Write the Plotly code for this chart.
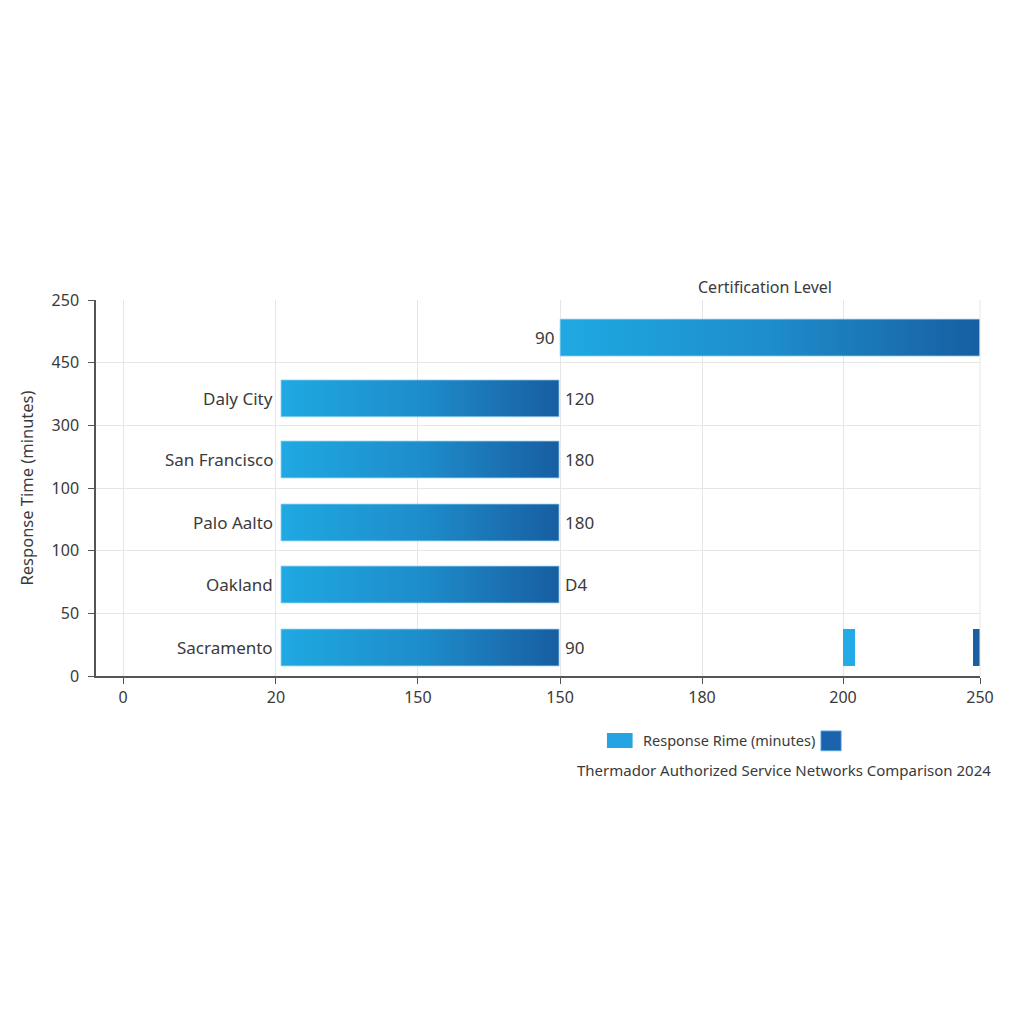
import plotly.graph_objects as go

# rows listed bottom -> top
cities = ["Sacramento", "Oakland", "Palo Aalto", "San Francisco", "Daly City"]
value_labels = ["90", "D4", "180", "180", "120"]
top_label = "90"

row_center = [0.455, 1.46, 2.45, 3.455, 4.43, 5.40]
bar_start = [1.106, 1.106, 1.106, 1.106, 1.106, 3.06]
bar_end = [3.053, 3.053, 3.053, 3.053, 3.053, 6.0]
bar_height = 0.59

# two small solid marks on the Sacramento row
mark_start = [5.041, 5.951]
mark_end = [5.125, 6.0]
mark_colors = ["#22abe6", "#1a5ea3"]

x_tickvals = [0, 1.071, 2.065, 3.06, 4.054, 5.041, 6]
x_ticktext = ["0", "20", "150", "150", "180", "200", "250"]
y_tickvals = [0, 1, 2, 3, 4, 5, 6]
y_ticktext = ["0", "50", "100", "100", "300", "450", "250"]

LIGHT = "#1fa9e2"
DARK = "#175ea2"
FONT = "Noto Sans"
TXT = "#3a3a3a"

fig = go.Figure()

for s, e, c in zip(bar_start, bar_end, row_center):
    y0, y1 = c - bar_height / 2, c + bar_height / 2
    fig.add_trace(go.Scatter(
        x=[s, e, e, s, s], y=[y0, y0, y1, y1, y0],
        mode="lines", fill="toself",
        fillgradient=dict(type="horizontal",
                          colorscale=[[0, LIGHT], [0.5, "#1e8dcb"], [1, DARK]]),
        line=dict(width=0.8, color="#9fd6f2"),
        hoverinfo="skip", showlegend=False,
    ))

for s, e, col in zip(mark_start, mark_end, mark_colors):
    c = row_center[0]
    y0, y1 = c - bar_height / 2, c + bar_height / 2
    fig.add_trace(go.Scatter(
        x=[s, e, e, s, s], y=[y0, y0, y1, y1, y0],
        mode="lines", fill="toself", fillcolor=col,
        line=dict(width=0), hoverinfo="skip", showlegend=False,
    ))

labels = []
# city names left of bars
for name, s, c in zip(cities, bar_start, row_center):
    labels.append(dict(x=s, y=c, text=name, xanchor="right", xshift=-6,
                       showarrow=False, font=dict(size=17, color=TXT)))
# value labels right of bars
for val, e, c in zip(value_labels, bar_end, row_center):
    labels.append(dict(x=e, y=c, text=val, xanchor="left", xshift=4,
                       showarrow=False, font=dict(size=17, color=TXT)))
# label of the top bar sits on its left
labels.append(dict(x=bar_start[5], y=row_center[5], text=top_label, xanchor="right",
                   xshift=-4, showarrow=False, font=dict(size=17, color=TXT)))

fig.update_layout(
    width=1024, height=1024,
    margin=dict(l=88, r=52, t=292, b=356),
    paper_bgcolor="white", plot_bgcolor="white",
    font=dict(family=FONT, size=16, color=TXT),
    xaxis=dict(
        range=[-0.189, 6], tickvals=x_tickvals, ticktext=x_ticktext,
        showgrid=True, gridcolor="#e6e6e6", gridwidth=1,
        showline=True, linecolor="#555555", linewidth=1.5,
        ticks="outside", ticklen=6, tickcolor="#555555",
        zeroline=False, tickfont=dict(size=16, color=TXT),
    ),
    yaxis=dict(
        range=[0, 6], tickvals=y_tickvals, ticktext=y_ticktext,
        showgrid=True, gridcolor="#e6e6e6", gridwidth=1,
        showline=True, linecolor="#555555", linewidth=1.5,
        ticks="outside", ticklen=6, tickcolor="#555555", ticklabelstandoff=6,
        zeroline=False, tickfont=dict(size=16, color=TXT),
        title=dict(text="Response Time (minutes)", font=dict(size=16.5, color=TXT),
                   standoff=14),
    ),
    shapes=[
        dict(type="line", xref="paper", yref="paper", x0=1, x1=1, y0=0, y1=1,
             line=dict(color="#e6e6e6", width=1)),
        dict(type="rect", xref="paper", yref="paper", x0=0.578, x1=0.607,
             y0=-0.1915, y1=-0.1516, fillcolor="#26a3e2", line=dict(width=0)),
        dict(type="rect", xref="paper", yref="paper", x0=0.820, x1=0.843,
             y0=-0.199, y1=-0.146, fillcolor="#1b64ad", line=dict(width=0.8, color="#6fb8e6")),
    ],
    annotations=labels + [
        dict(text="Certification Level", xref="paper", yref="paper", x=0.7568, y=1.0346,
             xanchor="center", yanchor="middle", showarrow=False,
             font=dict(size=16, color=TXT)),
        dict(text="Response Rime (minutes)", xref="paper", yref="paper", x=0.6165, y=-0.1715,
             xanchor="left", yanchor="middle", showarrow=False,
             font=dict(size=14.5, color=TXT)),
        dict(text="Thermador Authorized Service Networks Comparison 2024", xref="paper",
             yref="paper", x=1.0147, y=-0.25, xanchor="right", yanchor="middle",
             showarrow=False, font=dict(size=15, color=TXT)),
    ],
)

fig.write_html("out.html")
